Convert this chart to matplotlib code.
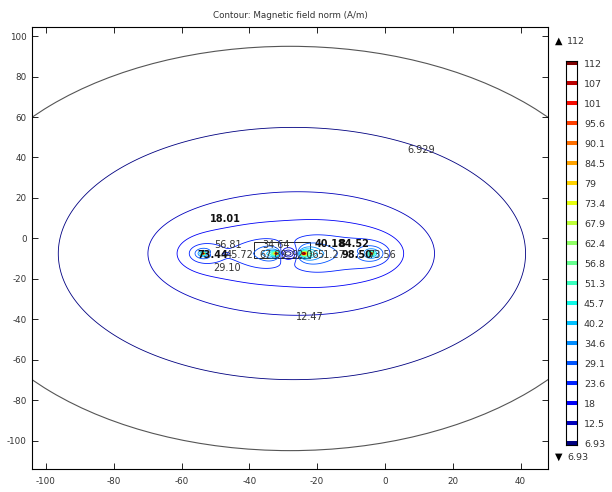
import numpy as np
import matplotlib.pyplot as plt
from matplotlib.patches import Circle, Rectangle

plt.rcParams['axes.unicode_minus'] = False

# =========================
# DATA
# =========================

# contour levels (A/m)
level_min = 6.929
level_max = 112.25
n_levels = 20

legend_labels = ["6.93", "12.5", "18", "23.6", "29.1", "34.6", "40.2", "45.7",
                 "51.3", "56.8", "62.4", "67.9", "73.4", "79", "84.5", "90.1",
                 "95.6", "101", "107", "112"]

# two flat conductors on y = strip_y: left/right x ends, strength, and
# how much of the current is pushed towards one edge (-1 .. 1)
strip_left = [-53.5, -24.0]
strip_right = [-32.0, -4.0]
strip_strength = [210.0, 245.0]
strip_skew = [0.3, -0.3]
strip_y = -7.5

# air domain boundary and the small block between the conductors
domain_center = (-28.0, -5.0)
domain_radius = 100.0
block_x = [-38.5, -22.0]
block_y = [-9.5, -2.0]

# inline labels written on the contours
label_text = ["6.929", "12.47", "18.01", "56.81", "34.64", "73.44", "45.72",
              "67.89", "92.06", "51.27", "73.56", "98.50", "40.18", "84.52",
              "29.10"]
label_x = [10.8, -22.3, -47.0, -46.3, -32.2, -50.9, -42.8,
           -33.0, -23.6, -15.9, -0.8, -8.2, -16.2, -9.1, -46.6]
label_y = [43.7, -38.8, 9.6, -3.3, -3.3, -8.3, -8.3,
           -8.3, -8.3, -8.3, -8.3, -8.3, -2.8, -2.8, -14.5]
label_bold = [False, False, True, False, False, True, False,
              False, False, False, False, True, True, True, False]

# =========================
# FIELD NORM ON A GRID
# =========================

x = np.arange(-106, 50, 0.1) + 0.05
y = np.arange(-116, 107, 0.1) + 0.05
X, Y = np.meshgrid(x, y)
Z = X + 1j * (Y - strip_y)

F = np.zeros_like(Z)
with np.errstate(all="ignore"):
    for a, b, k, skew in zip(strip_left, strip_right, strip_strength, strip_skew):
        m = 0.5 * (a + b)
        h = 0.5 * (b - a)
        w = Z - m
        s = np.sqrt(w - h) * np.sqrt(w + h)
        F += (k + skew * k / h * (w - s)) / s
H = np.clip(np.abs(F), 0, 400)

# =========================
# PLOT
# =========================

fig = plt.figure(figsize=(6.12, 4.92), dpi=100)
ax = fig.add_axes([0.0518, 0.0467, 0.8436, 0.8978])

levels = np.linspace(level_min, level_max, n_levels)

ax.contour(X, Y, H, levels=levels, cmap="jet",
           vmin=level_min, vmax=level_max, linewidths=0.6)

ax.add_patch(Circle(domain_center, domain_radius, fill=False,
                    edgecolor="#555555", linewidth=0.8))
ax.add_patch(Rectangle((block_x[0], block_y[0]), block_x[1] - block_x[0],
                       block_y[1] - block_y[0], fill=False,
                       edgecolor="black", linewidth=0.6))

for t, lx, ly, b in zip(label_text, label_x, label_y, label_bold):
    ax.text(lx, ly, t, ha="center", va="center", fontsize=7,
            color="#111111" if b else "#333333",
            fontweight="bold" if b else "normal")

ax.set_xlim(-104.2, 48.1)
ax.set_ylim(-114.1, 104.4)
ax.set_xticks(np.arange(-100, 41, 20))
ax.set_yticks(np.arange(-100, 101, 20))
ax.tick_params(direction="in", top=True, right=True, length=4, width=0.6,
               labelsize=6.3, labelcolor="#333333")
ax.tick_params(axis="x", pad=5.5)
ax.tick_params(axis="y", pad=3.5)
for s in ax.spines.values():
    s.set_linewidth(0.8)

fig.text(290 / 612, 1 - 15 / 492, "Contour: Magnetic field norm (A/m)",
         ha="center", va="center", fontsize=6.3, color="#333333")

# =========================
# LEGEND BAR
# =========================

cb = fig.add_axes([566 / 612, (492 - 445) / 492, 11 / 612, 384 / 492])
cmap = plt.get_cmap("jet")
for i in range(n_levels):
    cb.hlines(i, 0, 1, color=cmap(i / (n_levels - 1)), linewidth=2.9)
cb.set_xlim(0, 1)
cb.set_ylim(-0.1, n_levels - 1 + 0.125)
cb.set_xticks([])
cb.set_yticks(range(n_levels))
cb.set_yticklabels(legend_labels)
cb.yaxis.tick_right()
cb.tick_params(length=0, labelsize=6.8, labelcolor="#333333", pad=5)
for s in cb.spines.values():
    s.set_linewidth(0.8)

fig.text(555 / 612, 1 - 41 / 492, "\u25b2", ha="left", va="center",
         fontsize=7, color="black")
fig.text(567 / 612, 1 - 41 / 492, "112", ha="left", va="center",
         fontsize=6.8, color="#333333")
fig.text(555 / 612, 1 - 457 / 492, "\u25bc", ha="left", va="center",
         fontsize=7, color="black")
fig.text(567 / 612, 1 - 457 / 492, "6.93", ha="left", va="center",
         fontsize=6.8, color="#333333")

fig.savefig("out.png", dpi=100)
